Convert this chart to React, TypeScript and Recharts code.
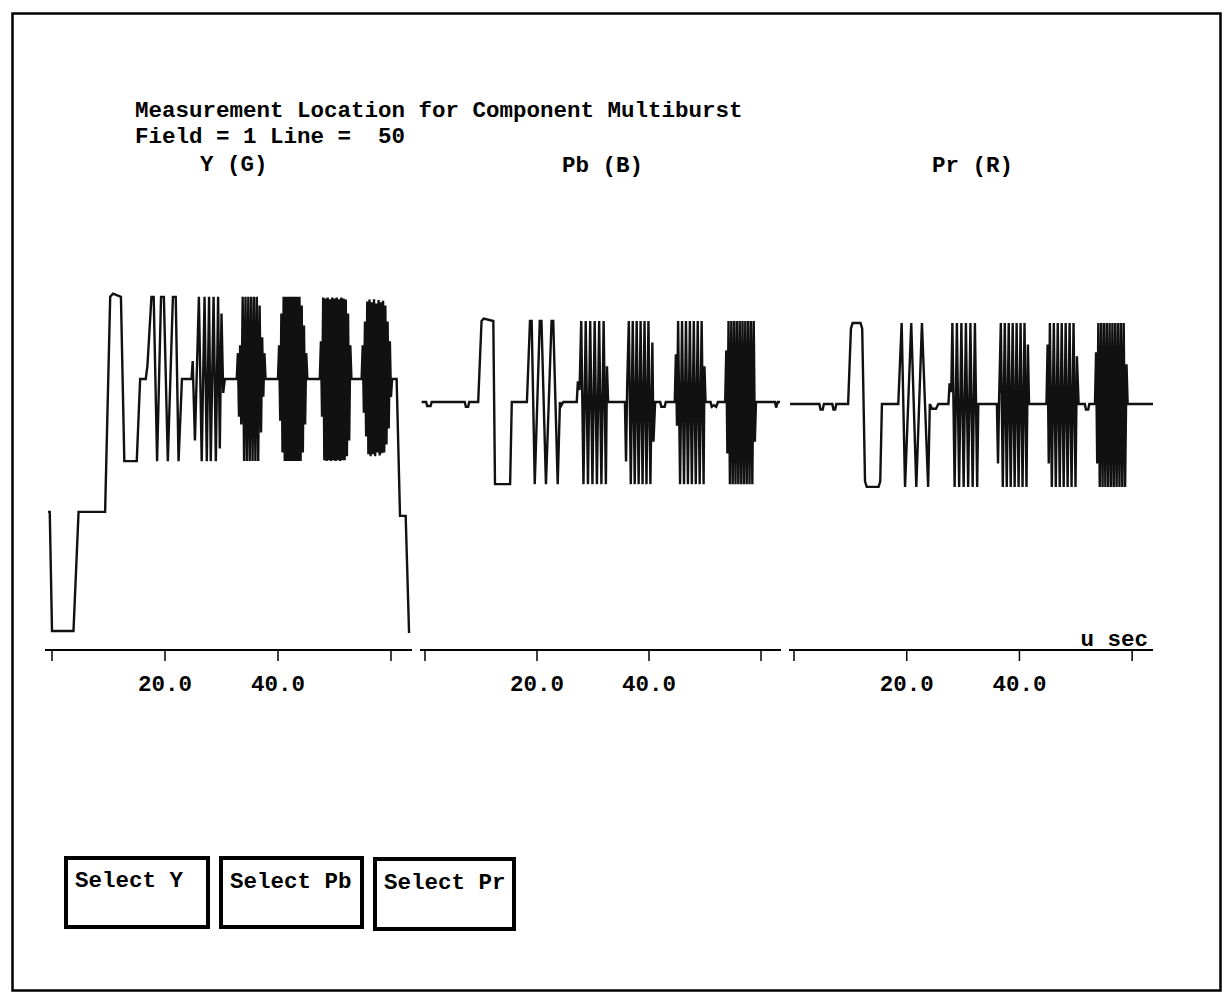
import { LineChart, Line, XAxis, YAxis } from 'recharts';

type Pt = [number, number];

const FONT = "'Liberation Mono', 'DejaVu Sans Mono', monospace";

// time axis (u sec)
const tickTimes = [0, 20, 40, 60];
const tickLabels = ['', '20.0', '40.0', ''];

// ---- Y (G) trace, mV: blank 0, sync -300 ----
const ySync: Pt[] = [[-0.7, 0], [-0.4, 0], [0.0, -300], [3.8, -300], [4.7, 0], [9.4, 0]];
const yFlag: Pt[] = [[10.3, 542], [10.8, 550], [12.2, 542], [12.8, 128], [15.0, 128], [15.6, 335], [16.6, 335], [16.9, 370]];
const yBurst1: Pt[] = [[17.6, 542], [18.0, 542], [18.6, 128], [19.3, 542], [19.8, 542], [20.5, 128], [21.4, 542], [21.9, 542], [22.4, 128], [23.0, 335], [24.7, 335], [24.9, 380]];
const yBurst2: Pt[] = [[25.3, 180], [26.0, 542], [26.5, 128], [27.0, 542], [27.4, 128], [27.8, 542], [28.1, 128], [28.6, 542], [29.0, 128], [29.4, 542], [29.7, 160], [30.0, 500], [30.3, 300], [30.6, 335], [32.7, 335]];
const yBurst3: Pt[] = [[32.9, 400], [33.1, 240], [33.3, 420], [33.5, 220], [33.75, 542], [34.0, 128], [34.25, 542], [34.5, 128], [34.75, 542], [35.0, 128], [35.25, 542], [35.5, 128], [35.75, 542], [36.0, 128], [36.25, 542], [36.5, 128], [36.75, 520], [37.0, 200], [37.2, 440], [37.4, 290], [37.6, 400], [37.8, 335], [40.0, 335]];
const yBurst4: Pt[] = [[40.2, 420], [40.4, 230], [40.6, 500], [40.8, 150], [41.0, 542], [41.2, 128], [41.4, 542], [41.6, 128], [41.8, 542], [42.0, 128], [42.2, 542], [42.4, 128], [42.6, 542], [42.8, 128], [43.0, 542], [43.2, 128], [43.4, 542], [43.6, 128], [43.8, 542], [44.0, 128], [44.2, 520], [44.4, 150], [44.6, 470], [44.8, 220], [45.0, 400], [45.2, 335], [47.4, 335]];
const yBurst5: Pt[] = [[47.6, 430], [47.8, 240], [48.0, 540], [48.2, 130], [48.4, 538], [48.6, 128], [48.8, 540], [49.0, 130], [49.2, 536], [49.4, 128], [49.6, 540], [49.8, 130], [50.0, 538], [50.2, 128], [50.4, 540], [50.6, 130], [50.8, 536], [51.0, 128], [51.2, 540], [51.4, 130], [51.6, 538], [51.8, 130], [52.0, 535], [52.2, 140], [52.4, 500], [52.6, 180], [52.8, 420], [53.0, 335], [54.8, 335]];
const yBurst6: Pt[] = [[55.0, 420], [55.2, 250], [55.4, 480], [55.6, 190], [55.8, 530], [56.0, 145], [56.2, 535], [56.4, 140], [56.6, 528], [56.8, 145], [57.0, 536], [57.2, 140], [57.4, 525], [57.6, 150], [57.8, 534], [58.0, 142], [58.2, 528], [58.4, 148], [58.6, 532], [58.8, 150], [59.0, 520], [59.2, 170], [59.4, 480], [59.6, 210], [59.8, 430], [60.0, 290], [60.2, 335]];
const yEnd: Pt[] = [[61.0, 335], [61.6, -10], [62.6, -10], [63.2, -305]];

// ---- Pb (B) trace, mV: blank 0 ----
const pbStart: Pt[] = [[-0.6, 0], [0.2, 0], [0.4, -10], [1.0, -10], [1.2, 0], [7.1, 0], [7.3, -12], [7.7, -12], [7.9, 0], [9.5, 0]];
const pbFlag: Pt[] = [[10.1, 204], [10.5, 210], [12.2, 204], [12.5, -207], [15.2, -207], [15.5, 0], [18.2, 0]];
const pbBurst1: Pt[] = [[18.75, 204], [19.05, 204], [19.6, -207], [20.5, 204], [20.8, 204], [21.6, -207], [22.6, 204], [22.9, 204], [23.7, -207], [24.1, 0], [24.3, -10], [24.7, 0], [27.1, 0]];
const pbBurst2: Pt[] = [[27.3, 52], [27.6, 30], [27.9, 204], [28.3, -207], [28.7, 204], [29.1, -207], [29.5, 204], [29.9, -207], [30.3, 204], [30.7, -207], [31.1, 204], [31.5, -207], [31.9, 204], [32.3, -207], [32.5, 90], [32.7, 0], [35.7, 0]];
const pbBurst3: Pt[] = [[35.9, -150], [36.1, 40], [36.4, 204], [36.75, -207], [37.1, 204], [37.45, -207], [37.8, 204], [38.15, -207], [38.5, 204], [38.85, -207], [39.2, 204], [39.55, -207], [39.9, 204], [40.25, -207], [40.6, 150], [40.8, -100], [41.1, 0], [42.0, 0], [42.2, -12], [42.8, -12], [43.0, 0], [44.6, 0]];
const pbBurst4: Pt[] = [[44.8, 120], [45.0, -60], [45.2, 204], [45.55, -207], [45.9, 204], [46.25, -207], [46.6, 204], [46.95, -207], [47.3, 204], [47.65, -207], [48.0, 204], [48.35, -207], [48.7, 204], [49.05, -207], [49.4, 204], [49.75, -207], [49.9, 90], [50.1, 0], [51.0, 0], [51.2, -12], [51.6, -8], [52.0, -12], [52.3, 0], [53.6, 0]];
const pbBurst5: Pt[] = [[53.8, 130], [54.0, -130], [54.2, 204], [54.45, -207], [54.7, 204], [54.95, -207], [55.2, 204], [55.45, -207], [55.7, 204], [55.95, -207], [56.2, 204], [56.45, -207], [56.7, 204], [56.95, -207], [57.2, 204], [57.45, -207], [57.7, 204], [57.95, -207], [58.2, 204], [58.45, -207], [58.7, 204], [58.9, -100], [59.1, 0]];
const pbEnd: Pt[] = [[62.5, 0], [62.7, -14], [63.0, 0], [63.4, 0]];

// ---- Pr (R) trace, mV: blank 0 ----
const prStart: Pt[] = [[-0.7, 0], [4.5, 0], [4.7, -14], [5.1, -14], [5.3, 0], [6.8, 0], [7.0, -14], [7.3, -14], [7.5, 0], [9.6, 0]];
const prFlag: Pt[] = [[10.1, 190], [10.4, 204], [11.8, 204], [12.1, 190], [12.6, -195], [12.9, -209], [15.0, -209], [15.3, -195], [15.6, 0], [18.5, 0]];
const prBurst1: Pt[] = [[19.1, 204], [19.7, -209], [20.8, 204], [21.7, -209], [22.7, 204], [23.8, -209], [24.1, 0], [24.5, -12], [25.2, -12], [25.6, 0], [27.4, 0]];
const prBurst2: Pt[] = [[27.6, 52], [27.9, 30], [28.1, 204], [28.5, -209], [28.9, 204], [29.3, -209], [29.7, 204], [30.1, -209], [30.5, 204], [30.9, -209], [31.3, 204], [31.7, -209], [32.1, 204], [32.5, -209], [32.7, 0], [36.0, 0]];
const prBurst3: Pt[] = [[36.2, -150], [36.4, 20], [36.7, 204], [37.05, -209], [37.4, 204], [37.75, -209], [38.1, 204], [38.45, -209], [38.8, 204], [39.15, -209], [39.5, 204], [39.85, -209], [40.2, 204], [40.55, -209], [40.9, 204], [41.25, -209], [41.5, 150], [41.7, 0], [44.8, 0]];
const prBurst4: Pt[] = [[45.0, 150], [45.2, -150], [45.4, 204], [45.75, -209], [46.1, 204], [46.45, -209], [46.8, 204], [47.15, -209], [47.5, 204], [47.85, -209], [48.2, 204], [48.55, -209], [48.9, 204], [49.25, -209], [49.6, 204], [49.95, -209], [50.2, 120], [50.5, 0], [51.6, 0], [51.8, -14], [52.2, -14], [52.4, 0], [53.4, 0]];
const prBurst5: Pt[] = [[53.6, 130], [53.8, -150], [54.0, 204], [54.25, -209], [54.5, 204], [54.75, -209], [55.0, 204], [55.25, -209], [55.5, 204], [55.75, -209], [56.0, 204], [56.25, -209], [56.5, 204], [56.75, -209], [57.0, 204], [57.25, -209], [57.5, 204], [57.75, -209], [58.0, 204], [58.25, -209], [58.5, 204], [58.75, -209], [59.0, 100], [59.2, 0]];
const prEnd: Pt[] = [[63.8, 0]];

const rows = (segs: Pt[][]) => segs.flat().map(([t, v]) => ({ t, v }));

const yData = rows([ySync, yFlag, yBurst1, yBurst2, yBurst3, yBurst4, yBurst5, yBurst6, yEnd]);
const pbData = rows([pbStart, pbFlag, pbBurst1, pbBurst2, pbBurst3, pbBurst4, pbBurst5, pbEnd]);
const prData = rows([prStart, prFlag, prBurst1, prBurst2, prBurst3, prBurst4, prBurst5, prEnd]);

const fmtTick = (v: number) => tickLabels[tickTimes.indexOf(v)] ?? '';

function Panel({ data, left, width, xDomain, yDomain }: any) {
  return (
    <div style={{ position: 'absolute', left, top: 250 }}>
      <LineChart width={width} height={450} data={data} margin={{ top: 0, right: 0, bottom: 0, left: 0 }}>
        <XAxis
          dataKey="t"
          type="number"
          domain={xDomain}
          allowDataOverflow
          ticks={tickTimes}
          tickFormatter={fmtTick}
          interval={0}
          height={50}
          tickSize={11}
          tickMargin={14}
          axisLine={{ stroke: '#000', strokeWidth: 2 }}
          tickLine={{ stroke: '#000', strokeWidth: 1.5 }}
          tick={{ fill: '#000', fontSize: 22.5, fontFamily: FONT, fontWeight: 700 }}
        />
        <YAxis hide type="number" domain={yDomain} allowDataOverflow />
        <Line type="linear" dataKey="v" stroke="#111" strokeWidth={2.4} dot={false} isAnimationActive={false} />
      </LineChart>
    </div>
  );
}

const txt = { fontFamily: FONT, fontWeight: 700, fontSize: 22.5, fill: '#000', whiteSpace: 'pre' } as const;

export default function App() {
  return (
    <div style={{ position: 'absolute', left: 0, top: 0, width: 1231, height: 994, background: '#fff' }}>
      <svg width={1231} height={994} style={{ position: 'absolute', left: 0, top: 0 }}>
        <rect x={12.5} y={13.5} width={1208} height={977} fill="none" stroke="#000" strokeWidth={2.5} />
        <text x={135} y={117} style={txt}>Measurement Location for Component Multiburst</text>
        <text x={135} y={143} style={txt}>{'Field = 1 Line =  50'}</text>
        <text x={200} y={171} style={txt}>Y (G)</text>
        <text x={562} y={172} style={txt}>Pb (B)</text>
        <text x={932} y={172} style={txt}>Pr (R)</text>
        <text x={1148} y={646} textAnchor="end" style={txt}>u sec</text>

        <rect x={66} y={858} width={142} height={69} fill="none" stroke="#000" strokeWidth={4} />
        <text x={75} y={887} style={txt}>Select Y</text>
        <rect x={221} y={858} width={141} height={69} fill="none" stroke="#000" strokeWidth={4} />
        <text x={230} y={888} style={txt}>Select Pb</text>
        <rect x={375} y={859} width={139} height={70} fill="none" stroke="#000" strokeWidth={4} />
        <text x={384} y={889} style={txt}>Select Pr</text>
      </svg>

      <Panel data={yData} left={45} width={367} xDomain={[-1.24, 63.72]} yDomain={[-348, 660]} />
      <Panel data={pbData} left={420} width={361} xDomain={[-0.89, 63.57]} yDomain={[-625, 383]} />
      <Panel data={prData} left={789} width={364} xDomain={[-0.89, 63.7]} yDomain={[-620, 388]} />
    </div>
  );
}
